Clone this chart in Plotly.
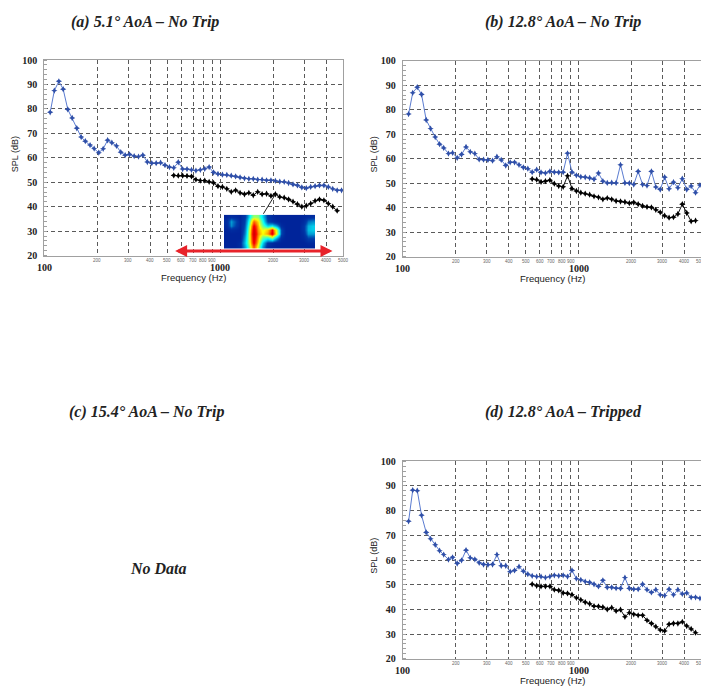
import math
import plotly.graph_objects as go

# ---------------------------------------------------------------- data
# 1/12-octave band centre frequencies (Hz)
FREQ_HZ = [108, 114, 121, 128, 136, 144, 153, 162, 171, 182, 192, 204, 216, 229, 242, 257,
           272, 288, 305, 324, 343, 363, 385, 408, 432, 458, 485, 514, 544, 577, 611, 647,
           686, 727, 770, 816, 864, 916, 970, 1028, 1089, 1154, 1222, 1295, 1372, 1453,
           1540, 1631, 1728, 1831, 1940, 2055, 2177, 2307, 2444, 2589, 2743, 2906, 3079,
           3262, 3456, 3661, 3879, 4110, 4354, 4613, 4887]

# the beamformed (black) spectra start at band index 28 and stop at 65
BEAM_START = 28
BEAM_STOP = 66

# (a) 5.1 deg AoA, no trip
SPL_A_MIC = [78.6, 87.5, 91.3, 88.1, 79.8, 76.3, 72.1, 68.5, 66.8, 65.2,
             63.8, 62.1, 63.7, 67.2, 66.2, 64.9, 62.3, 61.1, 61.4, 60.7,
             60.5, 61.1, 58.3, 57.8, 57.8, 58.0, 57.0, 56.2, 55.9, 58.2,
             55.4, 55.4, 55.1, 54.8, 55.1, 55.5, 56.2, 54.0, 53.4, 53.1,
             53.0, 52.7, 52.4, 52.0, 51.6, 51.4, 51.4, 51.1, 51.1, 50.8,
             50.8, 50.6, 50.3, 50.2, 49.7, 49.1, 48.7, 47.9, 47.6, 48.1,
             48.4, 48.7, 48.7, 48.1, 47.3, 46.7, 46.7]
SPL_A_BEAM = [52.8, 52.7, 52.7, 52.6, 52.4, 51.1, 50.7, 50.7, 50.2, 49.7,
              48.4, 48.1, 47.3, 46.1, 46.7, 45.7, 45.1, 45.7, 44.7, 46.1,
              45.1, 45.3, 44.4, 45.1, 44.0, 43.7, 43.0, 42.1, 41.0, 40.0,
              40.4, 41.3, 42.4, 43.0, 42.6, 41.3, 40.0, 38.4]

# (b) 12.8 deg AoA, no trip
SPL_B_MIC = [78.2, 86.9, 89.2, 86.2, 75.8, 72.3, 68.8, 65.9, 64.4, 62.1,
             62.4, 60.3, 61.7, 64.8, 62.8, 62.1, 59.7, 59.6, 59.5, 59.2,
             60.8, 59.5, 57.2, 58.5, 58.5, 57.5, 56.4, 55.9, 54.5, 55.5,
             54.4, 54.1, 54.8, 54.5, 54.4, 54.5, 62.2, 54.5, 53.2, 52.6,
             52.4, 52.1, 51.6, 54.1, 50.8, 50.1, 50.2, 50.1, 57.5, 50.1,
             50.0, 49.4, 54.8, 49.4, 49.0, 54.8, 48.4, 47.4, 52.4, 47.7,
             50.4, 48.1, 51.8, 47.4, 48.8, 46.1, 49.2]
SPL_B_BEAM = [51.7, 51.4, 50.5, 50.8, 51.2, 49.8, 48.8, 48.5, 53.0, 47.8,
              46.8, 46.1, 45.7, 45.3, 44.6, 44.2, 43.4, 43.9, 43.4, 42.7,
              42.5, 42.3, 41.8, 42.1, 41.4, 40.7, 40.3, 40.1, 39.1, 38.1,
              36.7, 35.9, 36.1, 37.4, 41.4, 37.8, 34.4, 34.7]

# (d) 12.8 deg AoA, tripped
SPL_D_MIC = [75.7, 88.3, 88.1, 78.1, 71.2, 68.6, 66.2, 63.8, 62.2, 60.2,
             61.1, 58.6, 59.9, 64.0, 60.9, 60.3, 58.9, 58.2, 58.1, 58.2,
             62.2, 57.7, 57.7, 55.3, 55.8, 57.3, 55.5, 54.3, 53.6, 53.3,
             53.3, 52.9, 53.3, 53.8, 53.6, 53.8, 53.3, 55.8, 52.5, 52.0,
             51.3, 50.9, 50.2, 49.3, 51.8, 48.9, 48.9, 48.6, 48.5, 52.9,
             48.5, 48.2, 48.2, 50.2, 48.0, 46.9, 48.0, 45.9, 45.6, 48.2,
             45.9, 48.0, 46.3, 46.7, 44.9, 44.9, 44.5]
SPL_D_BEAM = [50.2, 49.6, 49.3, 49.3, 49.3, 48.0, 47.7, 46.7, 46.5, 46.0,
              44.7, 43.9, 42.9, 42.3, 41.3, 41.2, 40.9, 40.0, 40.7, 39.4,
              39.9, 37.0, 38.7, 38.0, 37.6, 37.6, 35.6, 34.3, 33.0, 31.7,
              31.3, 34.0, 34.3, 34.3, 35.0, 33.3, 32.1, 30.6]

PANEL_TITLES = ["(a) 5.1° AoA – No Trip", "(b) 12.8° AoA – No Trip",
                "(c) 15.4° AoA – No Trip", "(d) 12.8° AoA – Tripped"]
NO_DATA_TEXT = "No Data"

MAJOR_TICKS = [100, 1000]
MINOR_TICKS = [200, 300, 400, 500, 600, 700, 800, 900, 2000, 3000, 4000, 5000]
Y_TICKS = [20, 30, 40, 50, 60, 70, 80, 90, 100]

# integration band marked by the red arrow (Hz) and the level it sits at (dB)
BAND_HZ = [543, 4340]
BAND_LEVEL = 21.9
# source-map inset callout: band index of the tagged point, and inset anchor
CALLOUT_BAND = 51
CALLOUT_ANCHOR = (1737, 36.5)

# source map shown in the inset (normalised level, rows top to bottom)
SOURCE_MAP = [
    [.12, .15, .14, .12, .18, .36, .52, .50, .36, .18, .14, .12, .12, .12, .12, .12, .12, .13, .14, .15],
    [.15, .30, .22, .13, .20, .44, .72, .62, .42, .20, .16, .13, .12, .12, .12, .12, .12, .15, .25, .28],
    [.14, .28, .20, .13, .22, .50, .82, .66, .48, .36, .40, .30, .15, .12, .12, .12, .12, .18, .32, .35],
    [.12, .15, .14, .12, .24, .54, .86, .68, .58, .64, .80, .55, .22, .12, .12, .12, .12, .18, .33, .35],
    [.12, .12, .12, .12, .26, .56, .88, .70, .60, .68, .84, .58, .22, .12, .12, .12, .12, .16, .30, .30],
    [.12, .12, .12, .12, .30, .56, .85, .66, .46, .40, .48, .30, .15, .12, .12, .12, .12, .14, .20, .20],
    [.12, .12, .12, .15, .33, .55, .82, .62, .36, .18, .15, .13, .12, .12, .12, .12, .12, .12, .14, .14],
    [.12, .12, .12, .15, .30, .50, .74, .56, .30, .15, .13, .12, .12, .12, .12, .12, .12, .12, .12, .12],
]

# ---------------------------------------------------------------- layout
W, H = 701, 694
DECADE_PX = 176.0
SERIF = "Liberation Serif"
SANS = "Liberation Sans"
TXT = "#222222"
GRID = "#5a5a5a"
FRAME = "#a0a0a0"
BLUE_LINE = "#5a7bd0"
BLUE_MK = "#2f4fa8"
DASH = "4px,3px"


def px(x):
    return x / W


def py(y):
    return 1 - y / H


# plot rectangles in pixels: left, right, top, bottom
RECT_A = (44.3, 343.3, 55.0, 254.0)
RECT_B = (402.7, 701.0, 55.7, 255.0)
RECT_D = (402.7, 701.0, 463.3, 664.3)
RECT_INSET = (224.0, 315.0, 212.3, 247.0)


def xrange_for(rect):
    return [2.0, 2.0 + (rect[1] - rect[0]) / DECADE_PX]


fig = go.Figure()

panels = [
    ("x", "y", RECT_A, SPL_A_MIC, SPL_A_BEAM, True),
    ("x2", "y2", RECT_B, SPL_B_MIC, SPL_B_BEAM, False),
    ("x3", "y3", RECT_D, SPL_D_MIC, SPL_D_BEAM, False),
]

annotations = []
layout_axes = {}

for xa, ya, rect, mic, beam, closed in panels:
    fig.add_trace(go.Scatter(
        x=FREQ_HZ, y=mic, xaxis=xa, yaxis=ya, mode="lines+markers",
        line=dict(color=BLUE_LINE, width=1),
        marker=dict(symbol="star-diamond", size=4.5, color=BLUE_MK),
        showlegend=False, hoverinfo="x+y"))
    fig.add_trace(go.Scatter(
        x=FREQ_HZ[BEAM_START:BEAM_STOP], y=beam, xaxis=xa, yaxis=ya, mode="lines+markers",
        line=dict(color="#111111", width=1),
        marker=dict(symbol="star-diamond", size=4.5, color="#000000"),
        showlegend=False, hoverinfo="x+y"))

    l, r, t, b = rect
    xr = xrange_for(rect)
    xkey = "xaxis" + xa[1:]
    ykey = "yaxis" + ya[1:]
    layout_axes[xkey] = dict(
        type="log", domain=[px(l), px(r)], range=xr, anchor=ya,
        tickvals=MAJOR_TICKS, showticklabels=False, ticks="",
        showgrid=True, gridcolor=GRID, gridwidth=1, griddash=DASH,
        minor=dict(tickvals=MINOR_TICKS, showgrid=True, gridcolor=GRID,
                   gridwidth=1, griddash=DASH, ticks=""),
        showline=True, linecolor=FRAME, linewidth=1, mirror=True, zeroline=False)
    layout_axes[ykey] = dict(
        domain=[py(b), py(t)], range=[20, 100], anchor=xa,
        tickvals=Y_TICKS, ticks="", ticklabelstandoff=4,
        tickfont=dict(family=SERIF, size=10, color=TXT, weight="bold"),
        showgrid=True, gridcolor=GRID, gridwidth=1, griddash=DASH,
        minor=dict(dtick=2, tick0=0, ticks="inside", ticklen=3, tickcolor=FRAME,
                   showgrid=False),
        showline=True, linecolor=FRAME, linewidth=1, mirror=closed, zeroline=False)

    def fx(f, rect=rect, xr=xr):
        frac = (math.log10(f) - xr[0]) / (xr[1] - xr[0])
        return px(rect[0] + frac * (rect[1] - rect[0]))

    # tick labels
    for f in MAJOR_TICKS:
        annotations.append(dict(
            x=fx(f), y=py(b + 12), xref="paper", yref="paper", showarrow=False,
            text=str(f), xanchor="center", yanchor="middle",
            font=dict(family=SERIF, size=10, color=TXT, weight="bold")))
    for f in MINOR_TICKS:
        annotations.append(dict(
            x=fx(f), y=py(b + 4.5), xref="paper", yref="paper", showarrow=False,
            text=str(f), xanchor="center", yanchor="middle",
            font=dict(family=SANS, size=4.5, color="#666666")))
    # axis titles
    annotations.append(dict(
        x=px((l + (l + DECADE_PX * math.log10(50))) / 2), y=py(b + 22),
        xref="paper", yref="paper", showarrow=False, text="Frequency (Hz)",
        xanchor="center", yanchor="middle",
        font=dict(family=SANS, size=9.5, color=TXT)))
    annotations.append(dict(
        x=px(l - 29), y=py((t + b) / 2 - 4), xref="paper", yref="paper",
        showarrow=False, text="SPL (dB)", textangle=-90,
        xanchor="center", yanchor="middle",
        font=dict(family=SANS, size=9, color=TXT)))

# source-map inset on panel (a)
fig.add_trace(go.Heatmap(
    z=SOURCE_MAP, xaxis="x4", yaxis="y4", colorscale="Jet", zmin=0, zmax=1,
    zsmooth="best", showscale=False, hoverinfo="skip"))
il, ir, it, ib = RECT_INSET
layout_axes["xaxis4"] = dict(domain=[px(il), px(ir)], anchor="y4", visible=False)
layout_axes["yaxis4"] = dict(domain=[py(ib), py(it)], anchor="x4", visible=False,
                             autorange="reversed")

# red double-headed arrow marking the integration band
annotations.append(dict(
    x=math.log10(BAND_HZ[1]), y=BAND_LEVEL, ax=math.log10(BAND_HZ[0]), ay=BAND_LEVEL,
    xref="x", yref="y", axref="x", ayref="y", text="", showarrow=True,
    arrowside="end+start", arrowhead=2, arrowsize=0.8, arrowwidth=3,
    arrowcolor="#e8232a"))

# callout from the tagged beamformed point to the inset
annotations.append(dict(
    x=math.log10(FREQ_HZ[CALLOUT_BAND]), y=SPL_A_BEAM[CALLOUT_BAND - BEAM_START],
    ax=math.log10(CALLOUT_ANCHOR[0]), ay=CALLOUT_ANCHOR[1],
    xref="x", yref="y", axref="x", ayref="y", text="", showarrow=True,
    arrowhead=0, arrowwidth=1, arrowcolor="#222222"))

# panel titles
title_pos = [(145, 16), (563, 16), (146, 413), (563, 413)]
for text, (tx, ty) in zip(PANEL_TITLES, title_pos):
    annotations.append(dict(
        x=px(tx), y=py(ty), xref="paper", yref="paper", showarrow=False, text=text,
        xanchor="center", yanchor="middle",
        font=dict(family=SERIF, size=16, color=TXT, weight="bold", style="italic")))

annotations.append(dict(
    x=px(158), y=py(572), xref="paper", yref="paper", showarrow=False, text=NO_DATA_TEXT,
    xanchor="center", yanchor="middle",
    font=dict(family=SERIF, size=16, color=TXT, weight="bold", style="italic")))

fig.update_layout(
    width=W, height=H, margin=dict(l=0, r=0, t=0, b=0),
    paper_bgcolor="white", plot_bgcolor="white", showlegend=False,
    annotations=annotations, **layout_axes)

fig.write_html("out.html")
